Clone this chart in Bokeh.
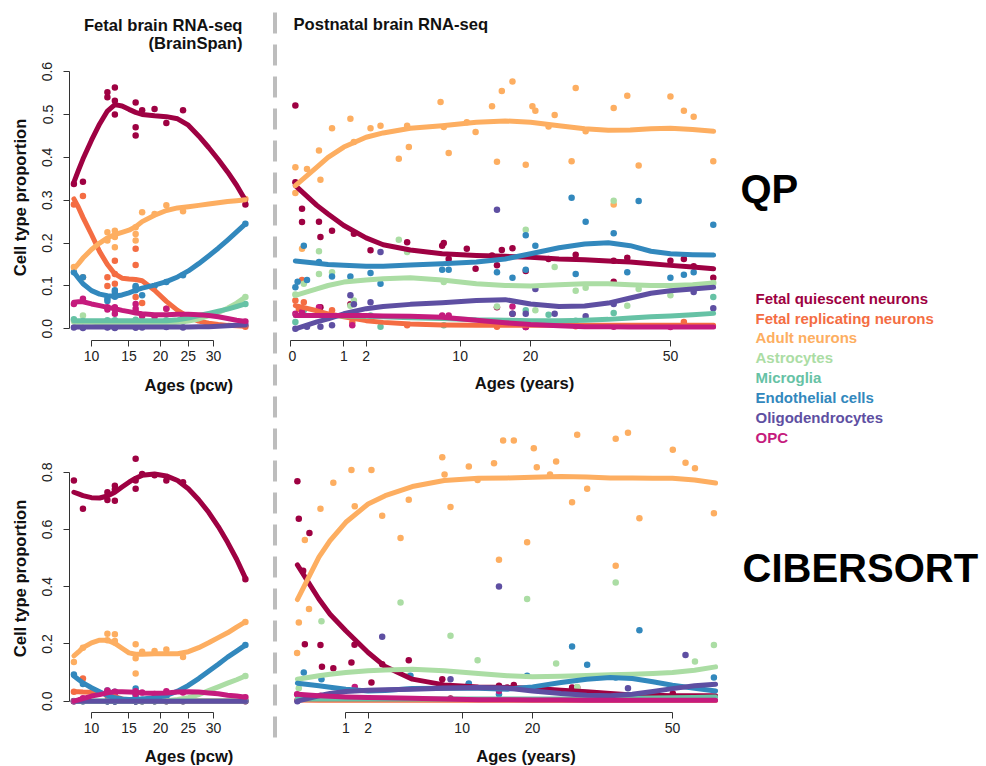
import math
from bokeh.plotting import figure
from bokeh.models import (Range1d, LinearAxis, FixedTicker, CustomJSTickFormatter,
                          PrintfTickFormatter, Label)
from bokeh.layouts import row, column
from bokeh.embed import file_html
from bokeh.resources import INLINE
from bokeh.core.properties import value

FONT = "Liberation Sans"

SERIES = ["Fetal quiescent neurons", "Fetal replicating neurons", "Adult neurons",
          "Astrocytes", "Microglia", "Endothelial cells", "Oligodendrocytes", "OPC"]
COLORS = ["#9E0142", "#F46D43", "#FDAE61", "#ABDDA4", "#66C2A5", "#3288BD", "#5E4FA2", "#C51B7D"]

# ---------------- Fetal (pcw) ----------------
F_SAMPLE_AGES = [8, 9, 12, 12, 13, 13, 13, 16, 16, 16, 17, 19, 21, 24, 37]
F_CURVE_AGES = [8, 8.5, 9, 10, 11, 12, 13, 14, 15, 16, 17, 19, 21, 23, 25, 27, 29, 31, 33, 35, 37]
F_TICKS = [10, 15, 20, 25, 30]

QP_F_PTS = [
    [0.338, 0.343, 0.552, 0.54, 0.563, 0.532, 0.50, 0.528, 0.47, 0.451, 0.51, 0.513, 0.48, 0.51, 0.29],
    [0.29, 0.31, 0.12, 0.10, 0.159, 0.128, 0.105, 0.187, 0.149, 0.074, 0.06, 0.012, 0.047, 0.02, 0.005],
    [0.144, 0.12, 0.225, 0.206, 0.229, 0.214, 0.19, 0.237, 0.221, 0.206, 0.272, 0.268, 0.288, 0.274, 0.303],
    [0.018, 0.031, 0.015, 0.013, 0.014, 0.012, 0.016, 0.014, 0.012, 0.016, 0.013, 0.011, 0.014, 0.017, 0.074],
    [0.022, 0.018, 0.02, 0.017, 0.019, 0.016, 0.02, 0.019, 0.017, 0.021, 0.018, 0.016, 0.02, 0.02, 0.058],
    [0.132, 0.12, 0.07, 0.065, 0.085, 0.075, 0.09, 0.097, 0.09, 0.1, 0.078, 0.1, 0.109, 0.125, 0.245],
    [0.003, 0.002, 0.004, 0.003, 0.003, 0.004, 0.002, 0.003, 0.004, 0.003, 0.003, 0.012, 0.004, 0.003, 0.009],
    [0.058, 0.07, 0.05, 0.045, 0.05, 0.035, 0.045, 0.058, 0.047, 0.04, 0.03, 0.028, 0.047, 0.03, 0.017],
]
QP_F_FIT = [
    [0.342, 0.37, 0.396, 0.44, 0.478, 0.508, 0.523, 0.52, 0.512, 0.505, 0.5, 0.497, 0.495, 0.49, 0.475, 0.45, 0.423, 0.395, 0.366, 0.335, 0.3],
    [0.303, 0.283, 0.26, 0.22, 0.18, 0.15, 0.128, 0.118, 0.116, 0.115, 0.112, 0.09, 0.064, 0.043, 0.028, 0.018, 0.013, 0.01, 0.008, 0.007, 0.006],
    [0.14, 0.152, 0.165, 0.185, 0.2, 0.212, 0.22, 0.225, 0.23, 0.238, 0.25, 0.265, 0.276, 0.282, 0.285, 0.288, 0.291, 0.294, 0.297, 0.299, 0.301],
    [0.015, 0.015, 0.015, 0.015, 0.014, 0.014, 0.014, 0.013, 0.013, 0.013, 0.013, 0.013, 0.013, 0.015, 0.018, 0.023, 0.03, 0.038, 0.048, 0.06, 0.074],
    [0.019, 0.019, 0.019, 0.019, 0.019, 0.019, 0.019, 0.019, 0.019, 0.019, 0.019, 0.019, 0.019, 0.021, 0.025, 0.031, 0.036, 0.041, 0.046, 0.052, 0.058],
    [0.132, 0.118, 0.105, 0.089, 0.081, 0.077, 0.076, 0.079, 0.084, 0.09, 0.095, 0.102, 0.11, 0.121, 0.135, 0.152, 0.17, 0.188, 0.207, 0.226, 0.245],
    [0.004, 0.004, 0.004, 0.004, 0.004, 0.004, 0.004, 0.004, 0.004, 0.004, 0.004, 0.004, 0.004, 0.004, 0.004, 0.005, 0.005, 0.006, 0.007, 0.008, 0.009],
    [0.062, 0.063, 0.063, 0.058, 0.054, 0.05, 0.047, 0.043, 0.04, 0.037, 0.035, 0.033, 0.033, 0.034, 0.034, 0.033, 0.031, 0.028, 0.024, 0.02, 0.017],
]
CS_F_PTS = [
    [0.771, 0.672, 0.73, 0.703, 0.753, 0.70, 0.74, 0.847, 0.771, 0.742, 0.794, 0.789, 0.771, 0.765, 0.426],
    [0.033, 0.079, 0.025, 0.02, 0.015, 0.01, 0.005, 0.0, 0.0, 0.002, 0.0, 0.0, 0.0, 0.0, 0.0],
    [0.137, 0.187, 0.236, 0.213, 0.234, 0.21, 0.205, 0.199, 0.15, 0.097, 0.173, 0.175, 0.181, 0.154, 0.277],
    [0.0, 0.0, 0.0, 0.0, 0.0, 0.0, 0.0, 0.0, 0.0, 0.0, 0.0, 0.0, 0.0, 0.004, 0.088],
    [0.001, 0.0, 0.001, 0.0, 0.001, 0.0, 0.0, 0.001, 0.0, 0.0, 0.0, 0.0, 0.001, 0.0, 0.002],
    [0.093, 0.06, 0.037, 0.03, 0.033, 0.01, 0.015, 0.044, 0.02, 0.01, 0.005, 0.01, 0.014, 0.04, 0.196],
    [0.0, 0.0, 0.0, 0.0, 0.0, 0.0, 0.0, 0.0, 0.0, 0.0, 0.0, 0.0, 0.0, 0.0, 0.0],
    [0.0, 0.01, 0.037, 0.03, 0.033, 0.03, 0.03, 0.035, 0.03, 0.025, 0.03, 0.025, 0.035, 0.03, 0.014],
]
CS_F_FIT = [
    [0.73, 0.724, 0.718, 0.711, 0.71, 0.717, 0.73, 0.748, 0.765, 0.779, 0.789, 0.794, 0.787, 0.771, 0.742, 0.704, 0.66, 0.61, 0.555, 0.496, 0.43],
    [0.033, 0.033, 0.032, 0.031, 0.029, 0.024, 0.016, 0.008, 0.003, 0.001, 0.001, 0.001, 0.001, 0.001, 0.001, 0.001, 0.001, 0.001, 0.001, 0.001, 0.001],
    [0.158, 0.172, 0.187, 0.204, 0.213, 0.213, 0.202, 0.185, 0.169, 0.164, 0.164, 0.166, 0.166, 0.166, 0.173, 0.187, 0.204, 0.222, 0.239, 0.259, 0.277],
    [0.0, 0.0, 0.0, 0.0, 0.0, 0.0, 0.0, 0.0, 0.0, 0.0, 0.001, 0.001, 0.002, 0.006, 0.012, 0.023, 0.037, 0.05, 0.063, 0.075, 0.088],
    [0.001, 0.001, 0.001, 0.001, 0.001, 0.001, 0.001, 0.001, 0.001, 0.001, 0.001, 0.001, 0.001, 0.001, 0.001, 0.001, 0.001, 0.001, 0.001, 0.001, 0.001],
    [0.088, 0.076, 0.064, 0.047, 0.033, 0.02, 0.012, 0.008, 0.006, 0.006, 0.008, 0.012, 0.02, 0.035, 0.055, 0.079, 0.105, 0.129, 0.154, 0.175, 0.196],
    [0.0, 0.0, 0.0, 0.0, 0.0, 0.0, 0.0, 0.0, 0.0, 0.0, 0.0, 0.0, 0.0, 0.0, 0.0, 0.0, 0.0, 0.0, 0.0, 0.0, 0.0],
    [0.0, 0.005, 0.009, 0.018, 0.023, 0.029, 0.033, 0.033, 0.032, 0.031, 0.029, 0.028, 0.029, 0.032, 0.033, 0.032, 0.029, 0.026, 0.021, 0.018, 0.014],
]

# ---------------- Postnatal (years) ----------------
P_CURVE_AGES = [0.01, 0.25, 0.5, 1, 2, 3, 5, 8, 12, 16, 20, 25, 30, 35, 40, 45, 50, 56, 62]
P_TICKS_QP = [0, 1, 2, 10, 20, 50]
P_TICKS_CS = [1, 2, 10, 20, 50]

QP_P_FIT = [
    [0.334, 0.288, 0.268, 0.241, 0.212, 0.196, 0.184, 0.175, 0.171, 0.169, 0.167, 0.163, 0.161, 0.158, 0.156, 0.152, 0.148, 0.144, 0.14],
    [0.054, 0.042, 0.035, 0.028, 0.019, 0.015, 0.011, 0.009, 0.008, 0.008, 0.008, 0.008, 0.008, 0.008, 0.008, 0.008, 0.008, 0.008, 0.008],
    [0.334, 0.377, 0.40, 0.424, 0.447, 0.457, 0.468, 0.474, 0.482, 0.485, 0.482, 0.474, 0.467, 0.463, 0.464, 0.467, 0.468, 0.465, 0.461],
    [0.078, 0.093, 0.101, 0.109, 0.114, 0.117, 0.119, 0.114, 0.105, 0.101, 0.1, 0.103, 0.105, 0.105, 0.103, 0.101, 0.101, 0.103, 0.107],
    [0.031, 0.031, 0.031, 0.03, 0.029, 0.028, 0.026, 0.024, 0.021, 0.02, 0.019, 0.019, 0.02, 0.022, 0.025, 0.028, 0.03, 0.033, 0.036],
    [0.158, 0.153, 0.15, 0.148, 0.146, 0.146, 0.149, 0.152, 0.156, 0.163, 0.175, 0.189, 0.198, 0.201, 0.194, 0.181, 0.175, 0.173, 0.172],
    [0.0, 0.016, 0.023, 0.035, 0.047, 0.052, 0.057, 0.061, 0.066, 0.068, 0.058, 0.052, 0.053, 0.06, 0.072, 0.083, 0.089, 0.093, 0.097],
    [0.031, 0.031, 0.031, 0.031, 0.031, 0.03, 0.029, 0.027, 0.02, 0.014, 0.01, 0.007, 0.005, 0.005, 0.004, 0.004, 0.004, 0.004, 0.004],
]
CS_P_FIT = [
    [0.476, 0.357, 0.304, 0.246, 0.17, 0.121, 0.077, 0.057, 0.05, 0.048, 0.045, 0.038, 0.033, 0.027, 0.022, 0.021, 0.019, 0.019, 0.019],
    [0.004, 0.003, 0.003, 0.003, 0.003, 0.003, 0.003, 0.003, 0.003, 0.003, 0.003, 0.003, 0.003, 0.003, 0.003, 0.003, 0.003, 0.003, 0.003],
    [0.355, 0.503, 0.561, 0.625, 0.689, 0.718, 0.75, 0.771, 0.779, 0.78, 0.782, 0.785, 0.783, 0.78, 0.78, 0.779, 0.779, 0.773, 0.762],
    [0.077, 0.089, 0.094, 0.1, 0.106, 0.109, 0.112, 0.106, 0.097, 0.089, 0.085, 0.087, 0.09, 0.092, 0.094, 0.097, 0.1, 0.108, 0.12],
    [0.008, 0.008, 0.008, 0.008, 0.008, 0.008, 0.008, 0.008, 0.008, 0.008, 0.008, 0.008, 0.009, 0.009, 0.01, 0.011, 0.012, 0.013, 0.015],
    [0.063, 0.054, 0.049, 0.042, 0.036, 0.037, 0.044, 0.045, 0.045, 0.042, 0.05, 0.065, 0.077, 0.083, 0.079, 0.068, 0.056, 0.045, 0.036],
    [0.0, 0.019, 0.027, 0.034, 0.038, 0.04, 0.042, 0.045, 0.048, 0.046, 0.036, 0.027, 0.021, 0.019, 0.024, 0.034, 0.044, 0.054, 0.059],
    [0.024, 0.019, 0.017, 0.015, 0.013, 0.012, 0.01, 0.008, 0.005, 0.005, 0.004, 0.004, 0.003, 0.003, 0.003, 0.003, 0.003, 0.003, 0.003],
]

# postnatal sample points: (ages, values) per cell type
QP_P_PTS = [
    ([0.01, 0.01, 0.05, 0.05, 0.29, 0.32, 0.61, 1.41, 2.24, 4.74, 8.0, 8.17, 8.7, 10.8, 11.9, 14.1, 14.8, 15.5, 17.1, 19.2,
      23.1, 28.2, 36.2, 39.3, 50, 53.6, 56.3, 61.9, 36.2, 0.32, 1.26, 14.8, 17.1, 19.2],
     [0.521, 0.342, 0.28, 0.249, 0.25, 0.214, 0.229, 0.222, 0.183, 0.202, 0.194, 0.2, 0.163, 0.187, 0.14, 0.171, 0.148, 0.184, 0.188, 0.135,
      0.163, 0.173, 0.159, 0.166, 0.159, 0.163, 0.146, 0.119, 0.11, 0.05, 0.057, 0.05, 0.035, 0.004]),
    ([0.01, 0.027, 0.05, 0.066, 0.61, 53.6, 4.74, 14.8, 1.34, 28.2],
     [0.066, 0.047, 0.114, 0.062, 0.043, 0.016, 0.008, 0.005, 0.015, 0.006]),
    ([0.01, 0.01, 0.1, 0.05, 0.29, 0.32, 0.61, 1.26, 1.41, 2.24, 2.83, 4.09, 4.74, 4.88, 7.83, 8.17, 8.7, 10.8, 11.9, 14.1,
      14.8, 15.5, 17.1, 19.2, 20.3, 20.8, 23.1, 24.2, 27.4, 28.2, 30.2, 36.2, 36.2, 39.3, 42, 50, 53.6, 56.3, 61.9],
     [0.377, 0.317, 0.373, 0.187, 0.416, 0.348, 0.468, 0.49, 0.436, 0.468, 0.474, 0.397, 0.474, 0.424, 0.529, 0.471, 0.41, 0.482, 0.459, 0.519,
      0.39, 0.555, 0.577, 0.383, 0.519, 0.509, 0.472, 0.499, 0.391, 0.562, 0.461, 0.515, 0.29, 0.544, 0.381, 0.542, 0.509, 0.495, 0.391]),
    ([0.01, 0.066, 0.29, 0.29, 0.61, 1.26, 1.41, 4.09, 4.74, 8.17, 19.2, 24.2, 28.2, 30.2, 36.2, 39.3, 42, 50, 61.9, 20.8, 14.8],
     [0.08, 0.105, 0.128, 0.181, 0.132, 0.054, 0.066, 0.208, 0.179, 0.109, 0.231, 0.144, 0.089, 0.096, 0.299, 0.054, 0.093, 0.078, 0.107, 0.043, 0.052]),
    ([0.01, 0.066, 2.83, 8.17, 19.2, 23.1, 36.2, 61.9, 2.24, 28.2],
     [0.016, 0.043, 0.005, 0.008, 0.043, 0.033, 0.037, 0.074, 0.031, 0.019]),
    ([0.01, 0.02, 0.066, 0.1, 0.29, 0.61, 1.26, 2.24, 2.83, 8.0, 8.7, 14.8, 17.1, 19.2, 19.2, 20.8, 27.4, 28.2, 30.2, 36.2,
      39.3, 42, 50, 53.6, 56.3, 61.9],
     [0.097, 0.11, 0.194, 0.114, 0.156, 0.122, 0.122, 0.13, 0.105, 0.138, 0.138, 0.132, 0.119, 0.218, 0.138, 0.194, 0.306, 0.128, 0.25, 0.223,
      0.132, 0.298, 0.119, 0.126, 0.132, 0.243]),
    ([0.01, 0.1, 0.32, 0.61, 1.26, 1.41, 2.24, 2.83, 14.8, 17.1, 19.2, 20.8, 24.2, 30.2, 36.2, 56.3, 61.9],
     [0.0, 0.005, 0.005, 0.008, 0.078, 0.057, 0.062, 0.179, 0.278, 0.035, 0.035, 0.093, 0.035, 0.029, 0.058, 0.086, 0.048]),
    ([0.01, 0.05, 0.29, 1.34, 8.0, 8.7, 17.1, 19.2, 36.2, 50],
     [0.035, 0.039, 0.05, 0.008, 0.031, 0.031, 0.052, 0.004, 0.005, 0.004]),
]
CS_P_PTS = [
    ([0.01, 0.016, 0.043, 0.057, 0.105, 0.28, 0.31, 0.59, 1.22, 1.35, 2.18, 2.81, 4.71, 7.8, 10.8, 14.8, 16, 17, 27.1, 28.1, 50.1, 8.68],
     [0.768, 0.637, 0.456, 0.199, 0.588, 0.196, 0.12, 0.115, 0.135, 0.197, 0.065, 0.129, 0.143, 0.077, 0.059, 0.054, 0.048, 0.057, 0.048, 0.048, 0.027, 0.009]),
    ([0.01], [0.003]),
    ([0.009, 0.016, 0.057, 0.1, 0.28, 0.59, 1.22, 1.36, 2.18, 2.81, 4.07, 4.71, 7.8, 8.04, 8.68, 10.8, 11.9, 14.1, 14.8, 15.4,
      17.0, 19.1, 20.2, 20.7, 23.0, 24.1, 27.1, 28.1, 30.1, 36.2, 36.2, 39.0, 41.7, 50.1, 53.5, 56.1, 61.5],
     [0.168, 0.275, 0.563, 0.322, 0.672, 0.763, 0.808, 0.681, 0.808, 0.648, 0.57, 0.704, 0.852, 0.792, 0.678, 0.82, 0.773, 0.831, 0.494, 0.911,
      0.911, 0.555, 0.884, 0.817, 0.792, 0.837, 0.695, 0.931, 0.742, 0.917, 0.473, 0.938, 0.639, 0.878, 0.833, 0.814, 0.657]),
    ([0.3, 4.07, 8.68, 11.9, 19.1, 24.1, 28.1, 36.2, 56.1, 61.5, 0.016, 4.71],
     [0.279, 0.345, 0.229, 0.143, 0.357, 0.132, 0.05, 0.415, 0.139, 0.196, 0.045, 0.089]),
    ([61.5, 36.2], [0.013, 0.015]),
    ([0.048, 0.3, 4.85, 19.1, 27.1, 30.1, 36.2, 41.7, 61.5, 14.8, 10.8],
     [0.1, 0.077, 0.089, 0.089, 0.191, 0.127, 0.083, 0.248, 0.083, 0.024, 0.062]),
    ([2.81, 8.68, 14.8, 53.5, 39.0, 0.01], [0.225, 0.077, 0.401, 0.161, 0.045, 0.0]),
    ([0.009, 0.28, 1.36, 14.8], [0.024, 0.019, 0.05, 0.036]),
]

QP_Y_TICKS = [0.0, 0.1, 0.2, 0.3, 0.4, 0.5, 0.6]
CS_Y_TICKS = [0.0, 0.2, 0.4, 0.6, 0.8]

AXIS_COLOR = "#333333"
TXT = "#111111"
TITLE_SIZE = "16.6px"
SQ_FMT = "return Math.round(tick*tick).toString();"


def sq(vals):
    return [math.sqrt(v) for v in vals]


def base_fig(w, h, xr, yr, bl=0, br=0, bt=0, bb=0):
    p = figure(width=w, height=h, x_range=Range1d(*xr), y_range=Range1d(*yr),
               output_backend="svg", toolbar_location=None, title=None,
               x_axis_type=None, y_axis_type=None,
               min_border_left=bl, min_border_right=br, min_border_top=bt, min_border_bottom=bb)
    p.outline_line_color = None
    p.background_fill_color = "white"
    p.border_fill_color = "white"
    p.grid.visible = False
    return p


def pixel_fig(w, h):
    # blank canvas whose data coordinates equal its own pixels (y downwards)
    return base_fig(w, h, (0, w), (h, 0))


def style_axis(ax):
    ax.axis_line_color = AXIS_COLOR
    ax.major_tick_line_color = AXIS_COLOR
    ax.major_tick_out = 6
    ax.major_tick_in = 0
    ax.minor_tick_out = 0
    ax.minor_tick_in = 0
    ax.major_label_text_font = FONT
    ax.major_label_text_font_size = "14px"
    ax.major_label_text_color = "#222222"


def add_x_axis(p, ticks, lo, hi):
    ax = LinearAxis(ticker=FixedTicker(ticks=sq(ticks)),
                    formatter=CustomJSTickFormatter(code=SQ_FMT),
                    bounds=(math.sqrt(lo), math.sqrt(hi)))
    style_axis(ax)
    ax.major_label_standoff = 4
    p.add_layout(ax, "below")


def add_y_axis(p, ticks):
    ax = LinearAxis(ticker=FixedTicker(ticks=ticks),
                    formatter=PrintfTickFormatter(format="%.1f"),
                    bounds=(ticks[0], ticks[-1]))
    style_axis(ax)
    ax.major_label_orientation = "vertical"
    ax.major_label_standoff = 11
    p.add_layout(ax, "left")


def heading(p, text, x, y, align):
    # x, y: screen pixels from the frame's bottom-left corner
    p.add_layout(Label(x=x, y=y, x_units="screen", y_units="screen", text=text,
                       text_font=FONT, text_font_size=TITLE_SIZE, text_font_style="bold",
                       text_color=TXT, text_align=align, text_baseline="middle"))


def draw_fetal(p, pts, fits):
    xs_pts = sq(F_SAMPLE_AGES)
    xs_fit = sq(F_CURVE_AGES)
    for vals, c in zip(pts, COLORS):
        p.scatter(xs_pts, vals, size=6.5, fill_color=c, line_color=None)
    for vals, c in zip(fits, COLORS):
        p.line(xs_fit, vals, line_color=c, line_width=5, line_cap="round", line_join="round")


def draw_post(p, pts, fits):
    for (ages, vals), c in zip(pts, COLORS):
        p.scatter(sq(ages), vals, size=6.5, fill_color=c, line_color=None)
    xs_fit = sq(P_CURVE_AGES)
    for vals, c in zip(fits, COLORS):
        p.line(xs_fit, vals, line_color=c, line_width=5, line_cap="round", line_join="round")


def xlabel_strip(w, text, x, y):
    s = pixel_fig(w, 25)
    s.text(x=[x], y=[y], text=[text], text_font=value(FONT), text_font_size=TITLE_SIZE,
           text_font_style="bold", text_color=TXT, text_align="center", text_baseline="middle")
    return s


# ---- geometry (page pixels) ----
F_X10, F_K = 91.0, 52.7        # fetal: pixel of 10 pcw, px per sqrt(pcw)
P_X0_TOP, P_X0_BOT, P_K = 289.5, 291.5, 53.8
STRIP_W = 34                   # left strip holding the y-axis titles

def fet_range(px0, px1):
    return (math.sqrt(10) + (px0 - F_X10) / F_K, math.sqrt(10) + (px1 - F_X10) / F_K)

QP_YR = (-(340 - 328.3) / 428.6, 328.3 / 428.6)          # frame y 0..340
CS_YR = (-(712 - 700.7) / 286.25, (700.7 - 425) / 286.25)  # frame y 425..712

# y-title strip
ys = pixel_fig(STRIP_W, 766)
ys.text(x=[20, 20], y=[197, 578], text=["Cell type proportion"] * 2, angle=math.pi / 2,
        text_font=value(FONT), text_font_size=TITLE_SIZE, text_font_style="bold",
        text_color=TXT, text_align="center", text_baseline="middle")

# Top-left: QP fetal  (frame: x 69..252, y 0..340)
tl = base_fig(252 - STRIP_W, 370, fet_range(69, 252), QP_YR, bl=69 - STRIP_W, bb=30)
draw_fetal(tl, QP_F_PTS, QP_F_FIT)
add_x_axis(tl, F_TICKS, 10, 30)
add_y_axis(tl, QP_Y_TICKS)
heading(tl, "Fetal brain RNA-seq", 242 - 69, 340 - 25, "right")
heading(tl, "(BrainSpan)", 242 - 69, 340 - 43, "right")
xl_tl = xlabel_strip(252 - STRIP_W, "Ages (pcw)", 176 - STRIP_W, 15)

# Bottom-left: CIBERSORT fetal  (frame: x 69..252, y 425..712)
bl = base_fig(252 - STRIP_W, 346, fet_range(69, 252), CS_YR, bl=69 - STRIP_W, bt=30, bb=29)
draw_fetal(bl, CS_F_PTS, CS_F_FIT)
add_x_axis(bl, F_TICKS, 10, 30)
add_y_axis(bl, CS_Y_TICKS)
xl_bl = xlabel_strip(252 - STRIP_W, "Ages (pcw)", 176.5 - STRIP_W, 15)

# Top-right: QP postnatal  (frame: x 288..718, y 0..340)
tr = base_fig(430, 370, ((288 - P_X0_TOP) / P_K, (718 - P_X0_TOP) / P_K), QP_YR, bb=30)
draw_post(tr, QP_P_PTS, QP_P_FIT)
add_x_axis(tr, P_TICKS_QP, 0, 50)
heading(tr, "Postnatal brain RNA-seq", 293 - 288, 340 - 24, "left")
xl_tr = xlabel_strip(430, "Ages (years)", 524 - 288, 13)

# Bottom-right: CIBERSORT postnatal  (frame: x 288..718, y 425..712)
br = base_fig(430, 346, ((288 - P_X0_BOT) / P_K, (718 - P_X0_BOT) / P_K), CS_YR, bt=30, bb=29)
draw_post(br, CS_P_PTS, CS_P_FIT)
add_x_axis(br, P_TICKS_CS, 1, 50)
xl_br = xlabel_strip(430, "Ages (years)", 525.5 - 288, 15)

# Divider
dv = pixel_fig(36, 766)
dv.line([22.5, 22.5], [12, 740], line_color="#BDBDBD", line_width=4, line_dash="21 11")

# Legend / method labels
lg = pixel_fig(268, 766)
LEG_Y = [298, 318, 337, 357, 377, 397, 417, 437]
lg.text(x=[37] * len(SERIES), y=LEG_Y, text=SERIES, text_color=COLORS,
        text_font=value(FONT), text_font_size="15px", text_font_style="bold",
        text_baseline="middle", text_align="left")
lg.text(x=[22], y=[188], text=["QP"], text_color="#000000", text_font=value(FONT),
        text_font_size="40px", text_font_style="bold", text_baseline="middle")
lg.text(x=[24], y=[567], text=["CIBERSORT"], text_color="#000000", text_font=value(FONT),
        text_font_size="40px", text_font_style="bold", text_baseline="middle")

layout = row(ys, column(tl, xl_tl, bl, xl_bl), dv, column(tr, xl_tr, br, xl_br), lg)
open("out.html", "w").write(file_html(layout, INLINE))
